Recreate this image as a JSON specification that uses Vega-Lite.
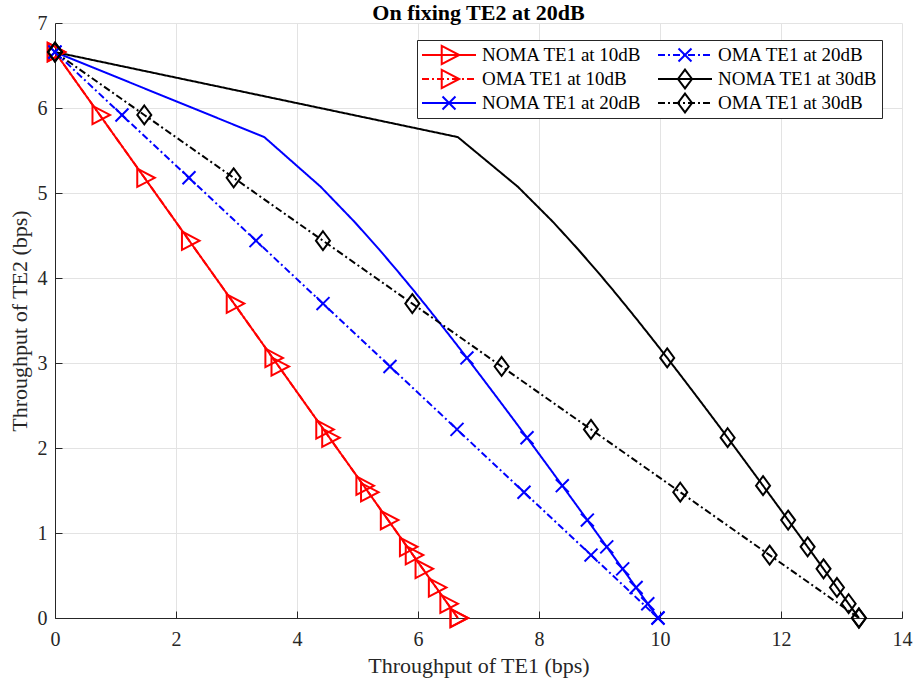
{
  "$schema": "https://vega.github.io/schema/vega-lite/v6.json",
  "width": 847,
  "height": 595,
  "autosize": "none",
  "padding": {"left": 55, "top": 23, "right": 14, "bottom": 65},
  "title": {"text": "On fixing TE2 at 20dB", "font": "Liberation Serif", "fontSize": 22, "fontWeight": "bold", "color": "#000000", "anchor": "middle", "offset": -12},
  "datasets": {
    "lines": [
      {"Curve": "NOMA TE1 at 10dB", "TE1": 0, "TE2": 6.658},
      {"Curve": "NOMA TE1 at 10dB", "TE1": 3.598, "TE2": 3.060},
      {"Curve": "NOMA TE1 at 10dB", "TE1": 4.537, "TE2": 2.121},
      {"Curve": "NOMA TE1 at 10dB", "TE1": 5.102, "TE2": 1.557},
      {"Curve": "NOMA TE1 at 10dB", "TE1": 5.506, "TE2": 1.152},
      {"Curve": "NOMA TE1 at 10dB", "TE1": 5.822, "TE2": 0.837},
      {"Curve": "NOMA TE1 at 10dB", "TE1": 6.080, "TE2": 0.578},
      {"Curve": "NOMA TE1 at 10dB", "TE1": 6.300, "TE2": 0.359},
      {"Curve": "NOMA TE1 at 10dB", "TE1": 6.490, "TE2": 0.168},
      {"Curve": "NOMA TE1 at 10dB", "TE1": 6.658, "TE2": 0},
      {"Curve": "OMA TE1 at 10dB", "TE1": 0, "TE2": 6.658},
      {"Curve": "OMA TE1 at 10dB", "TE1": 0.740, "TE2": 5.918},
      {"Curve": "OMA TE1 at 10dB", "TE1": 1.480, "TE2": 5.179},
      {"Curve": "OMA TE1 at 10dB", "TE1": 2.219, "TE2": 4.439},
      {"Curve": "OMA TE1 at 10dB", "TE1": 2.959, "TE2": 3.699},
      {"Curve": "OMA TE1 at 10dB", "TE1": 3.699, "TE2": 2.959},
      {"Curve": "OMA TE1 at 10dB", "TE1": 4.439, "TE2": 2.219},
      {"Curve": "OMA TE1 at 10dB", "TE1": 5.179, "TE2": 1.480},
      {"Curve": "OMA TE1 at 10dB", "TE1": 5.918, "TE2": 0.740},
      {"Curve": "OMA TE1 at 10dB", "TE1": 6.658, "TE2": 0},
      {"Curve": "NOMA TE1 at 20dB", "TE1": 0, "TE2": 6.658},
      {"Curve": "NOMA TE1 at 20dB", "TE1": 3.459, "TE2": 5.658},
      {"Curve": "NOMA TE1 at 20dB", "TE1": 4.392, "TE2": 5.073},
      {"Curve": "NOMA TE1 at 20dB", "TE1": 4.954, "TE2": 4.658},
      {"Curve": "NOMA TE1 at 20dB", "TE1": 5.358, "TE2": 4.336},
      {"Curve": "NOMA TE1 at 20dB", "TE1": 5.672, "TE2": 4.073},
      {"Curve": "NOMA TE1 at 20dB", "TE1": 5.931, "TE2": 3.851},
      {"Curve": "NOMA TE1 at 20dB", "TE1": 6.150, "TE2": 3.658},
      {"Curve": "NOMA TE1 at 20dB", "TE1": 6.340, "TE2": 3.488},
      {"Curve": "NOMA TE1 at 20dB", "TE1": 6.508, "TE2": 3.336},
      {"Curve": "NOMA TE1 at 20dB", "TE1": 6.658, "TE2": 3.199},
      {"Curve": "NOMA TE1 at 20dB", "TE1": 6.809, "TE2": 3.060},
      {"Curve": "NOMA TE1 at 20dB", "TE1": 7.033, "TE2": 2.851},
      {"Curve": "NOMA TE1 at 20dB", "TE1": 7.238, "TE2": 2.658},
      {"Curve": "NOMA TE1 at 20dB", "TE1": 7.459, "TE2": 2.449},
      {"Curve": "NOMA TE1 at 20dB", "TE1": 7.651, "TE2": 2.266},
      {"Curve": "NOMA TE1 at 20dB", "TE1": 7.802, "TE2": 2.121},
      {"Curve": "NOMA TE1 at 20dB", "TE1": 7.972, "TE2": 1.958},
      {"Curve": "NOMA TE1 at 20dB", "TE1": 8.234, "TE2": 1.704},
      {"Curve": "NOMA TE1 at 20dB", "TE1": 8.385, "TE2": 1.557},
      {"Curve": "NOMA TE1 at 20dB", "TE1": 8.647, "TE2": 1.301},
      {"Curve": "NOMA TE1 at 20dB", "TE1": 8.799, "TE2": 1.152},
      {"Curve": "NOMA TE1 at 20dB", "TE1": 8.969, "TE2": 0.986},
      {"Curve": "NOMA TE1 at 20dB", "TE1": 9.120, "TE2": 0.837},
      {"Curve": "NOMA TE1 at 20dB", "TE1": 9.231, "TE2": 0.728},
      {"Curve": "NOMA TE1 at 20dB", "TE1": 9.383, "TE2": 0.578},
      {"Curve": "NOMA TE1 at 20dB", "TE1": 9.453, "TE2": 0.509},
      {"Curve": "NOMA TE1 at 20dB", "TE1": 9.605, "TE2": 0.359},
      {"Curve": "NOMA TE1 at 20dB", "TE1": 9.646, "TE2": 0.318},
      {"Curve": "NOMA TE1 at 20dB", "TE1": 9.733, "TE2": 0.232},
      {"Curve": "NOMA TE1 at 20dB", "TE1": 9.798, "TE2": 0.168},
      {"Curve": "NOMA TE1 at 20dB", "TE1": 9.893, "TE2": 0.073},
      {"Curve": "NOMA TE1 at 20dB", "TE1": 9.967, "TE2": 0},
      {"Curve": "OMA TE1 at 20dB", "TE1": 0, "TE2": 6.658},
      {"Curve": "OMA TE1 at 20dB", "TE1": 1.107, "TE2": 5.918},
      {"Curve": "OMA TE1 at 20dB", "TE1": 2.215, "TE2": 5.179},
      {"Curve": "OMA TE1 at 20dB", "TE1": 3.322, "TE2": 4.439},
      {"Curve": "OMA TE1 at 20dB", "TE1": 4.430, "TE2": 3.699},
      {"Curve": "OMA TE1 at 20dB", "TE1": 5.537, "TE2": 2.959},
      {"Curve": "OMA TE1 at 20dB", "TE1": 6.645, "TE2": 2.219},
      {"Curve": "OMA TE1 at 20dB", "TE1": 7.752, "TE2": 1.480},
      {"Curve": "OMA TE1 at 20dB", "TE1": 8.860, "TE2": 0.740},
      {"Curve": "OMA TE1 at 20dB", "TE1": 9.967, "TE2": 0},
      {"Curve": "NOMA TE1 at 30dB", "TE1": 0, "TE2": 6.658},
      {"Curve": "NOMA TE1 at 30dB", "TE1": 6.658, "TE2": 5.658},
      {"Curve": "NOMA TE1 at 30dB", "TE1": 7.651, "TE2": 5.073},
      {"Curve": "NOMA TE1 at 30dB", "TE1": 8.234, "TE2": 4.658},
      {"Curve": "NOMA TE1 at 30dB", "TE1": 8.647, "TE2": 4.336},
      {"Curve": "NOMA TE1 at 30dB", "TE1": 8.969, "TE2": 4.073},
      {"Curve": "NOMA TE1 at 30dB", "TE1": 9.231, "TE2": 3.851},
      {"Curve": "NOMA TE1 at 30dB", "TE1": 9.453, "TE2": 3.658},
      {"Curve": "NOMA TE1 at 30dB", "TE1": 9.646, "TE2": 3.488},
      {"Curve": "NOMA TE1 at 30dB", "TE1": 9.815, "TE2": 3.336},
      {"Curve": "NOMA TE1 at 30dB", "TE1": 9.967, "TE2": 3.199},
      {"Curve": "NOMA TE1 at 30dB", "TE1": 10.119, "TE2": 3.060},
      {"Curve": "NOMA TE1 at 30dB", "TE1": 10.345, "TE2": 2.851},
      {"Curve": "NOMA TE1 at 30dB", "TE1": 10.552, "TE2": 2.658},
      {"Curve": "NOMA TE1 at 30dB", "TE1": 10.774, "TE2": 2.449},
      {"Curve": "NOMA TE1 at 30dB", "TE1": 10.967, "TE2": 2.266},
      {"Curve": "NOMA TE1 at 30dB", "TE1": 11.118, "TE2": 2.121},
      {"Curve": "NOMA TE1 at 30dB", "TE1": 11.288, "TE2": 1.958},
      {"Curve": "NOMA TE1 at 30dB", "TE1": 11.551, "TE2": 1.704},
      {"Curve": "NOMA TE1 at 30dB", "TE1": 11.703, "TE2": 1.557},
      {"Curve": "NOMA TE1 at 30dB", "TE1": 11.966, "TE2": 1.301},
      {"Curve": "NOMA TE1 at 30dB", "TE1": 12.118, "TE2": 1.152},
      {"Curve": "NOMA TE1 at 30dB", "TE1": 12.288, "TE2": 0.986},
      {"Curve": "NOMA TE1 at 30dB", "TE1": 12.440, "TE2": 0.837},
      {"Curve": "NOMA TE1 at 30dB", "TE1": 12.551, "TE2": 0.728},
      {"Curve": "NOMA TE1 at 30dB", "TE1": 12.703, "TE2": 0.578},
      {"Curve": "NOMA TE1 at 30dB", "TE1": 12.773, "TE2": 0.509},
      {"Curve": "NOMA TE1 at 30dB", "TE1": 12.925, "TE2": 0.359},
      {"Curve": "NOMA TE1 at 30dB", "TE1": 12.966, "TE2": 0.318},
      {"Curve": "NOMA TE1 at 30dB", "TE1": 13.053, "TE2": 0.232},
      {"Curve": "NOMA TE1 at 30dB", "TE1": 13.118, "TE2": 0.168},
      {"Curve": "NOMA TE1 at 30dB", "TE1": 13.214, "TE2": 0.073},
      {"Curve": "NOMA TE1 at 30dB", "TE1": 13.288, "TE2": 0},
      {"Curve": "OMA TE1 at 30dB", "TE1": 0, "TE2": 6.658},
      {"Curve": "OMA TE1 at 30dB", "TE1": 1.476, "TE2": 5.918},
      {"Curve": "OMA TE1 at 30dB", "TE1": 2.953, "TE2": 5.179},
      {"Curve": "OMA TE1 at 30dB", "TE1": 4.429, "TE2": 4.439},
      {"Curve": "OMA TE1 at 30dB", "TE1": 5.906, "TE2": 3.699},
      {"Curve": "OMA TE1 at 30dB", "TE1": 7.382, "TE2": 2.959},
      {"Curve": "OMA TE1 at 30dB", "TE1": 8.859, "TE2": 2.219},
      {"Curve": "OMA TE1 at 30dB", "TE1": 10.335, "TE2": 1.480},
      {"Curve": "OMA TE1 at 30dB", "TE1": 11.812, "TE2": 0.740},
      {"Curve": "OMA TE1 at 30dB", "TE1": 13.288, "TE2": 0}
    ],
    "markers": [
      {"Marker": "NOMA TE1 at 10dB", "TE1": 0, "TE2": 6.658},
      {"Marker": "NOMA TE1 at 10dB", "TE1": 3.598, "TE2": 3.060},
      {"Marker": "NOMA TE1 at 10dB", "TE1": 4.537, "TE2": 2.121},
      {"Marker": "NOMA TE1 at 10dB", "TE1": 5.102, "TE2": 1.557},
      {"Marker": "NOMA TE1 at 10dB", "TE1": 5.506, "TE2": 1.152},
      {"Marker": "NOMA TE1 at 10dB", "TE1": 5.822, "TE2": 0.837},
      {"Marker": "NOMA TE1 at 10dB", "TE1": 6.080, "TE2": 0.578},
      {"Marker": "NOMA TE1 at 10dB", "TE1": 6.300, "TE2": 0.359},
      {"Marker": "NOMA TE1 at 10dB", "TE1": 6.490, "TE2": 0.168},
      {"Marker": "NOMA TE1 at 10dB", "TE1": 6.658, "TE2": 0},
      {"Marker": "OMA TE1 at 10dB", "TE1": 0, "TE2": 6.658},
      {"Marker": "OMA TE1 at 10dB", "TE1": 0.740, "TE2": 5.918},
      {"Marker": "OMA TE1 at 10dB", "TE1": 1.480, "TE2": 5.179},
      {"Marker": "OMA TE1 at 10dB", "TE1": 2.219, "TE2": 4.439},
      {"Marker": "OMA TE1 at 10dB", "TE1": 2.959, "TE2": 3.699},
      {"Marker": "OMA TE1 at 10dB", "TE1": 3.699, "TE2": 2.959},
      {"Marker": "OMA TE1 at 10dB", "TE1": 4.439, "TE2": 2.219},
      {"Marker": "OMA TE1 at 10dB", "TE1": 5.179, "TE2": 1.480},
      {"Marker": "OMA TE1 at 10dB", "TE1": 5.918, "TE2": 0.740},
      {"Marker": "OMA TE1 at 10dB", "TE1": 6.658, "TE2": 0},
      {"Marker": "NOMA TE1 at 20dB", "TE1": 0, "TE2": 6.658},
      {"Marker": "NOMA TE1 at 20dB", "TE1": 6.809, "TE2": 3.060},
      {"Marker": "NOMA TE1 at 20dB", "TE1": 7.802, "TE2": 2.121},
      {"Marker": "NOMA TE1 at 20dB", "TE1": 8.385, "TE2": 1.557},
      {"Marker": "NOMA TE1 at 20dB", "TE1": 8.799, "TE2": 1.152},
      {"Marker": "NOMA TE1 at 20dB", "TE1": 9.120, "TE2": 0.837},
      {"Marker": "NOMA TE1 at 20dB", "TE1": 9.383, "TE2": 0.578},
      {"Marker": "NOMA TE1 at 20dB", "TE1": 9.605, "TE2": 0.359},
      {"Marker": "NOMA TE1 at 20dB", "TE1": 9.798, "TE2": 0.168},
      {"Marker": "NOMA TE1 at 20dB", "TE1": 9.967, "TE2": 0},
      {"Marker": "OMA TE1 at 20dB", "TE1": 0, "TE2": 6.658},
      {"Marker": "OMA TE1 at 20dB", "TE1": 1.107, "TE2": 5.918},
      {"Marker": "OMA TE1 at 20dB", "TE1": 2.215, "TE2": 5.179},
      {"Marker": "OMA TE1 at 20dB", "TE1": 3.322, "TE2": 4.439},
      {"Marker": "OMA TE1 at 20dB", "TE1": 4.430, "TE2": 3.699},
      {"Marker": "OMA TE1 at 20dB", "TE1": 5.537, "TE2": 2.959},
      {"Marker": "OMA TE1 at 20dB", "TE1": 6.645, "TE2": 2.219},
      {"Marker": "OMA TE1 at 20dB", "TE1": 7.752, "TE2": 1.480},
      {"Marker": "OMA TE1 at 20dB", "TE1": 8.860, "TE2": 0.740},
      {"Marker": "OMA TE1 at 20dB", "TE1": 9.967, "TE2": 0},
      {"Marker": "NOMA TE1 at 30dB", "TE1": 0, "TE2": 6.658},
      {"Marker": "NOMA TE1 at 30dB", "TE1": 10.119, "TE2": 3.060},
      {"Marker": "NOMA TE1 at 30dB", "TE1": 11.118, "TE2": 2.121},
      {"Marker": "NOMA TE1 at 30dB", "TE1": 11.703, "TE2": 1.557},
      {"Marker": "NOMA TE1 at 30dB", "TE1": 12.118, "TE2": 1.152},
      {"Marker": "NOMA TE1 at 30dB", "TE1": 12.440, "TE2": 0.837},
      {"Marker": "NOMA TE1 at 30dB", "TE1": 12.703, "TE2": 0.578},
      {"Marker": "NOMA TE1 at 30dB", "TE1": 12.925, "TE2": 0.359},
      {"Marker": "NOMA TE1 at 30dB", "TE1": 13.118, "TE2": 0.168},
      {"Marker": "NOMA TE1 at 30dB", "TE1": 13.288, "TE2": 0},
      {"Marker": "OMA TE1 at 30dB", "TE1": 0, "TE2": 6.658},
      {"Marker": "OMA TE1 at 30dB", "TE1": 1.476, "TE2": 5.918},
      {"Marker": "OMA TE1 at 30dB", "TE1": 2.953, "TE2": 5.179},
      {"Marker": "OMA TE1 at 30dB", "TE1": 4.429, "TE2": 4.439},
      {"Marker": "OMA TE1 at 30dB", "TE1": 5.906, "TE2": 3.699},
      {"Marker": "OMA TE1 at 30dB", "TE1": 7.382, "TE2": 2.959},
      {"Marker": "OMA TE1 at 30dB", "TE1": 8.859, "TE2": 2.219},
      {"Marker": "OMA TE1 at 30dB", "TE1": 10.335, "TE2": 1.480},
      {"Marker": "OMA TE1 at 30dB", "TE1": 11.812, "TE2": 0.740},
      {"Marker": "OMA TE1 at 30dB", "TE1": 13.288, "TE2": 0}
    ]
  },
  "encoding": {
    "x": {"field": "TE1", "type": "quantitative", "scale": {"domain": [0, 14], "nice": false, "zero": false},
      "axis": {"title": "Throughput of TE1 (bps)", "values": [0, 2, 4, 6, 8, 10, 12, 14], "labelFlush": false, "labelOverlap": false, "labelPadding": 18, "titlePadding": 6}},
    "y": {"field": "TE2", "type": "quantitative", "scale": {"domain": [0, 7], "nice": false, "zero": false},
      "axis": {"title": "Throughput of TE2 (bps)", "values": [0, 1, 2, 3, 4, 5, 6, 7], "labelOverlap": false, "titlePadding": 6}}
  },
  "layer": [
    {
      "data": {"name": "lines"},
      "mark": {"type": "line", "strokeWidth": 2},
      "encoding": {
        "color": {"field": "Curve", "type": "nominal",
          "scale": {"domain": ["NOMA TE1 at 10dB", "OMA TE1 at 10dB", "NOMA TE1 at 20dB", "OMA TE1 at 20dB", "NOMA TE1 at 30dB", "OMA TE1 at 30dB"],
                    "range": ["#ff0000", "#ff0000", "#0000ff", "#0000ff", "#000000", "#000000"]},
          "legend": {"title": null, "orient": "none", "legendX": 362, "legendY": 17, "columns": 2, "columnPadding": 15, "rowPadding": 2, "padding": 4, "clipHeight": 22,
            "symbolType": "stroke", "symbolSize": 2916, "symbolStrokeWidth": 2, "labelFont": "Liberation Serif", "labelFontSize": 19, "labelColor": "#000000",
            "labelOffset": 5, "labelLimit": 400, "strokeColor": "#262626", "fillColor": "#ffffff", "zindex": 1}},
        "strokeDash": {"field": "Curve", "type": "nominal",
          "scale": {"domain": ["NOMA TE1 at 10dB", "OMA TE1 at 10dB", "NOMA TE1 at 20dB", "OMA TE1 at 20dB", "NOMA TE1 at 30dB", "OMA TE1 at 30dB"],
                    "range": [[1, 0], [7, 3, 2, 3], [1, 0], [7, 3, 2, 3], [1, 0], [7, 3, 2, 3]]},
          "legend": {"title": null, "orient": "none", "legendX": 362, "legendY": 17, "columns": 2, "columnPadding": 15, "rowPadding": 2, "padding": 4, "clipHeight": 22,
            "symbolType": "stroke", "symbolSize": 2916, "symbolStrokeWidth": 2, "labelFont": "Liberation Serif", "labelFontSize": 19, "labelColor": "#000000",
            "labelOffset": 5, "labelLimit": 400, "strokeColor": "#262626", "fillColor": "#ffffff", "zindex": 1}}
      }
    },
    {
      "data": {"name": "markers"},
      "mark": {"type": "point", "filled": false, "strokeWidth": 2, "size": 2916, "opacity": 1},
      "encoding": {
        "color": {"field": "Marker", "type": "nominal",
          "scale": {"domain": ["NOMA TE1 at 10dB", "OMA TE1 at 10dB", "NOMA TE1 at 20dB", "OMA TE1 at 20dB", "NOMA TE1 at 30dB", "OMA TE1 at 30dB"],
                    "range": ["#ff0000", "#ff0000", "#0000ff", "#0000ff", "#000000", "#000000"]},
          "legend": {"title": null, "orient": "none", "legendX": 362, "legendY": 17, "columns": 2, "columnPadding": 15, "rowPadding": 2, "padding": 4, "clipHeight": 22,
            "symbolSize": 2916, "symbolStrokeWidth": 2, "symbolOpacity": 1, "labelFont": "Liberation Serif", "labelFontSize": 19, "labelOpacity": 0,
            "labelOffset": 5, "labelLimit": 400, "zindex": 2}},
        "shape": {"field": "Marker", "type": "nominal",
          "scale": {"domain": ["NOMA TE1 at 10dB", "OMA TE1 at 10dB", "NOMA TE1 at 20dB", "OMA TE1 at 20dB", "NOMA TE1 at 30dB", "OMA TE1 at 30dB"],
                    "range": ["M-0.27,-0.34L0.38,0L-0.27,0.34Z", "M-0.27,-0.34L0.38,0L-0.27,0.34Z", "M-0.24,-0.24L0.24,0.24M-0.24,0.24L0.24,-0.24", "M-0.24,-0.24L0.24,0.24M-0.24,0.24L0.24,-0.24", "M0,-0.35L0.26,0L0,0.35L-0.26,0Z", "M0,-0.35L0.26,0L0,0.35L-0.26,0Z"]},
          "legend": {"title": null, "orient": "none", "legendX": 362, "legendY": 17, "columns": 2, "columnPadding": 15, "rowPadding": 2, "padding": 4, "clipHeight": 22,
            "symbolSize": 2916, "symbolStrokeWidth": 2, "symbolOpacity": 1, "labelFont": "Liberation Serif", "labelFontSize": 19, "labelOpacity": 0,
            "labelOffset": 5, "labelLimit": 400, "zindex": 2}}
      }
    }
  ],
  "resolve": {"scale": {"color": "independent", "strokeDash": "independent", "shape": "independent"}},
  "config": {
    "view": {"stroke": null},
    "font": "Liberation Serif",
    "axis": {
      "domainColor": "#262626", "tickColor": "#262626", "labelColor": "#262626", "titleColor": "#262626",
      "labelFont": "Liberation Serif", "titleFont": "Liberation Serif", "labelFontSize": 20, "titleFontSize": 22, "titleFontWeight": "normal",
      "gridColor": "#e3e3e3", "gridWidth": 1, "tickSize": -7, "domainWidth": 1, "tickWidth": 1, "labelPadding": 15
    }
  }
}
